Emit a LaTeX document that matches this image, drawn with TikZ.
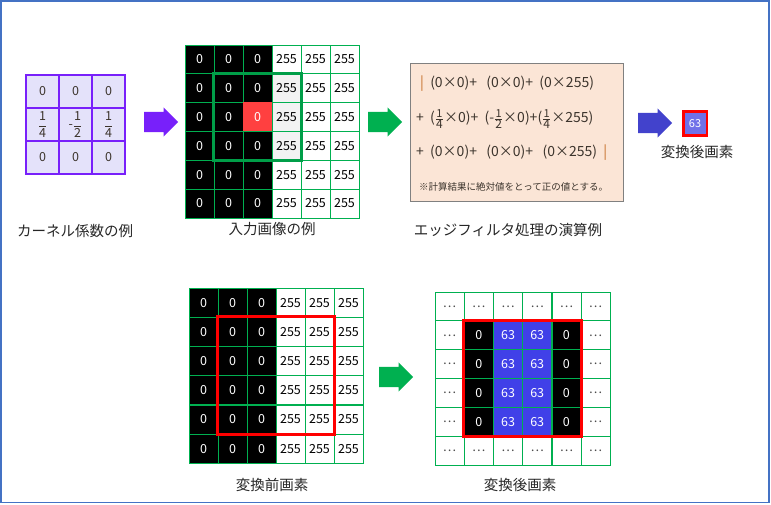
\documentclass[tikz,border=0pt]{standalone}
\usepackage{fontspec}
\usepackage{amsmath}
\setmainfont{Noto Sans CJK JP}
\usetikzlibrary{shapes.arrows}

\definecolor{frameblue}{RGB}{68,114,196}
\definecolor{gridgreen}{RGB}{0,176,80}
\definecolor{kernpurple}{RGB}{120,32,250}
\definecolor{kernfill}{RGB}{228,226,250}
\definecolor{arrowblue}{RGB}{66,66,204}
\definecolor{calcfill}{RGB}{251,229,214}
\definecolor{calcbar}{RGB}{197,110,40}
\definecolor{calctext}{RGB}{60,52,44}
\definecolor{hlred}{RGB}{255,64,64}
\definecolor{outblue}{RGB}{64,64,232}
\definecolor{outlight}{RGB}{112,112,232}
\definecolor{cellgray}{RGB}{242,242,242}

\tikzset{
  cell/.style={draw=gridgreen, line width=0.8pt, minimum width=29pt, minimum height=29pt,
    inner sep=0pt, font=\fontsize{12.5}{14}\selectfont},
  blk/.style={cell, fill=black, text=white},
  wht/.style={cell, fill=white, text=black},
  graycell/.style={cell, fill=cellgray, text=black},
  redcell/.style={cell, fill=hlred, draw=hlred, text=white},
  bluecell/.style={cell, fill=outblue, text=white},
  dotcell/.style={cell, fill=white, text=black!70},
  kcell/.style={draw=kernpurple, line width=2pt, fill=kernfill, minimum size=33pt,
    inner sep=0pt, text=calctext, font=\fontsize{12.5}{14}\selectfont},
  bigarrow/.style={single arrow, minimum height=34pt, minimum width=29pt,
    single arrow head extend=4.5pt, inner sep=10pt, anchor=tail},
  calcline/.style={anchor=west, inner sep=0pt, text=calctext, font=\fontsize{14}{16}\selectfont},
  caption/.style={inner sep=0pt, text=black!85, font=\fontsize{14.5}{16}\selectfont},
}

\begin{document}
\begin{tikzpicture}[x=1pt, y=-1pt]
  %tikz  edge filter, kernel and pixels
  \def\kf#1#2{$\dfrac{\mbox{#1}}{\mbox{#2}}$}
  \def\cf#1#2{$\frac{\mbox{\fontsize{11}{11}\selectfont #1}}{\mbox{\fontsize{12}{12}\selectfont #2}}$}
  \useasboundingbox (0,0) rectangle (771,504);
  \draw[frameblue, line width=1.5pt] (1,1) rectangle (769,502.5);

  % kernel
  \foreach \col in {0,1,2} {
    \node[kcell] (k-0-\col) at ({42.5+33*\col},91.5) {0};
    \node[kcell] (k-2-\col) at ({42.5+33*\col},157.5) {0};
  }
  \node[kcell] (k-1-0) at (42.5,124.5) {\kf{1}{4}};
  \node[kcell] (k-1-1) at (75.5,124.5) {-\kf{1}{2}};
  \node[kcell] (k-1-2) at (108.5,124.5) {\kf{1}{4}};
  \node[caption] (kcap) at (75,231) {カーネル係数の例};

  \node[bigarrow, fill=kernpurple] (arr1) at (144,122) {};

  % input image
  \foreach \row in {0,...,5}
    \foreach \col in {0,...,5} {
      \ifnum\col<3 \def\sty{blk}\def\val{0}\else\def\sty{wht}\def\val{255}\fi
      \ifnum\row=2 \ifnum\col=2 \def\sty{redcell}\fi\fi
      \ifnum\col=3 \ifnum\row>0 \ifnum\row<4 \def\sty{graycell}\fi\fi\fi
      \node[\sty] (in-\row-\col) at ({199.5+29*\col},{59.4+28.8*\row}) {\val};
    }
  \draw[gridgreen!90!black, line width=3pt] (in-1-1.north west) rectangle (in-3-3.south east);
  \node[caption] (incap) at (272,229) {入力画像の例};

  \node[bigarrow, fill=gridgreen] (arr2) at (368,122) {};

  % calculation
  \node[draw=gray, line width=0.8pt, fill=calcfill, minimum width=213pt, minimum height=138pt,
    inner sep=0pt] (calc) at (516.5,132) {};
  \node[calcline] (l1) at (420,84) {\textcolor{calcbar}{|}\ \ (0×0)+\ \ \ (0×0)+\ \ (0×255)};
  \node[calcline] (l2) at (416,119) {+\ \ (\cf{1}{4}×0)+\ \ (-\cf{1}{2}×0)+(\cf{1}{4}×255)};
  \node[calcline] (l3) at (416,153) {+\ \ (0×0)+\ \ \ (0×0)+\ \ \ (0×255)\ \ \textcolor{calcbar}{|}};
  \node[calcline, font=\fontsize{9.5}{11}\selectfont] (note) at (419,187)
    {※計算結果に絶対値をとって正の値とする。};
  \node[caption] (calccap) at (508,230) {エッジフィルタ処理の演算例};

  \node[bigarrow, fill=arrowblue] (arr3) at (638,123) {};

  \node[draw=red, line width=2.5pt, fill=outlight, text=white, minimum width=23.5pt,
    minimum height=24pt, inner sep=0pt, font=\fontsize{11}{12}\selectfont] (pix) at (695,123.5) {63};
  \node[caption] (pixcap) at (697,152) {変換後画素};

  % before
  \foreach \row in {0,...,5} {
    \foreach \col in {0,1,2}
      \node[blk] (bef-\row-\col) at ({203.5+29*\col},{302.6+29.2*\row}) {0};
    \foreach \col in {3,4,5}
      \node[wht] (bef-\row-\col) at ({203.5+29*\col},{302.6+29.2*\row}) {255};
  }
  \draw[red, line width=3pt] (bef-1-1.north west) rectangle (bef-4-4.south east);
  \node[caption] (befcap) at (272,485) {変換前画素};

  \node[bigarrow, fill=gridgreen] (arr4) at (379,377) {};

  % after
  \foreach \row in {0,...,5}
    \foreach \col in {0,...,5} {
      \def\sty{dotcell}\def\val{…}
      \ifnum\row>0 \ifnum\row<5
        \ifnum\col>0 \ifnum\col<5
          \def\sty{blk}\def\val{0}
          \ifnum\col>1 \ifnum\col<4 \def\sty{bluecell}\def\val{63}\fi\fi
        \fi\fi
      \fi\fi
      \node[\sty] (aft-\row-\col) at ({449.6+29.2*\col},{306.45+28.9*\row}) {\val};
    }
  \draw[red, line width=3pt] (aft-1-1.north west) rectangle (aft-4-4.south east);
  \node[caption] (aftcap) at (520,485) {変換後画素};
\end{tikzpicture}
\end{document}
